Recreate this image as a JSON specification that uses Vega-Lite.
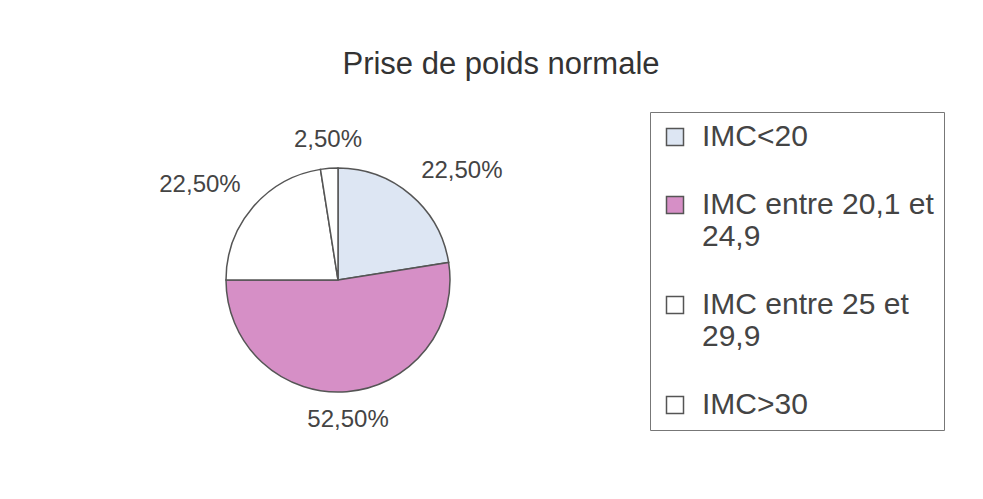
{
  "$schema": "https://vega.github.io/schema/vega-lite/v6.json",
  "width": 676,
  "height": 360,
  "autosize": {"type": "none"},
  "padding": {"top": 100, "left": 0, "right": 307, "bottom": 39},
  "background": "#ffffff",
  "title": {
    "text": "Prise de poids normale",
    "font": "Liberation Sans",
    "fontSize": 31,
    "fontWeight": "normal",
    "color": "#333333",
    "anchor": "middle",
    "dx": 163,
    "offset": 19
  },
  "data": {
    "values": [
      {"categorie": "IMC<20", "pourcentage": 22.5, "etiquette": "22,50%", "ordre": 1},
      {"categorie": "IMC entre 20,1 et 24,9", "pourcentage": 52.5, "etiquette": "52,50%", "ordre": 2},
      {"categorie": "IMC entre 25 et 29,9", "pourcentage": 22.5, "etiquette": "22,50%", "ordre": 3},
      {"categorie": "IMC>30", "pourcentage": 2.5, "etiquette": "2,50%", "ordre": 4}
    ]
  },
  "encoding": {
    "theta": {"field": "pourcentage", "type": "quantitative", "stack": true},
    "order": {"field": "ordre", "type": "quantitative"}
  },
  "layer": [
    {
      "mark": {"type": "arc", "radius": 112, "stroke": "#555555", "strokeWidth": 1.5},
      "encoding": {
        "color": {
          "field": "categorie",
          "type": "nominal",
          "scale": {
            "domain": ["IMC<20", "IMC entre 20,1 et 24,9", "IMC entre 25 et 29,9", "IMC>30"],
            "range": ["#dde6f3", "#d68fc6", "#ffffff", "#ffffff"]
          },
          "legend": {
            "title": null,
            "orient": "none",
            "legendX": 650,
            "legendY": 12,
            "direction": "vertical",
            "padding": 10,
            "fillColor": "#ffffff",
            "strokeColor": "#777777",
            "symbolType": "square",
            "symbolSize": 289,
            "symbolStrokeColor": "#555555",
            "symbolStrokeWidth": 1.5,
            "symbolOffset": 0,
            "labelFont": "Liberation Sans",
            "labelFontSize": 30,
            "labelColor": "#444444",
            "labelLimit": 400,
            "labelOffset": 12,
            "labelBaseline": "middle",
            "rowPadding": 38,
            "labelExpr": "datum.label == 'IMC entre 20,1 et 24,9' ? ['IMC entre 20,1 et', '24,9'] : datum.label == 'IMC entre 25 et 29,9' ? ['IMC entre 25 et', '29,9'] : datum.label"
          }
        }
      }
    },
    {
      "mark": {
        "type": "text",
        "radius": 128,
        "font": "Liberation Sans",
        "fontSize": 24,
        "color": "#444444",
        "align": {"expr": "datum.ordre == 1 ? 'left' : datum.ordre == 3 ? 'right' : 'center'"},
        "baseline": {"expr": "datum.ordre == 2 ? 'top' : 'bottom'"}
      },
      "encoding": {
        "text": {"field": "etiquette", "type": "nominal"}
      }
    }
  ],
  "config": {"view": {"stroke": null}}
}
